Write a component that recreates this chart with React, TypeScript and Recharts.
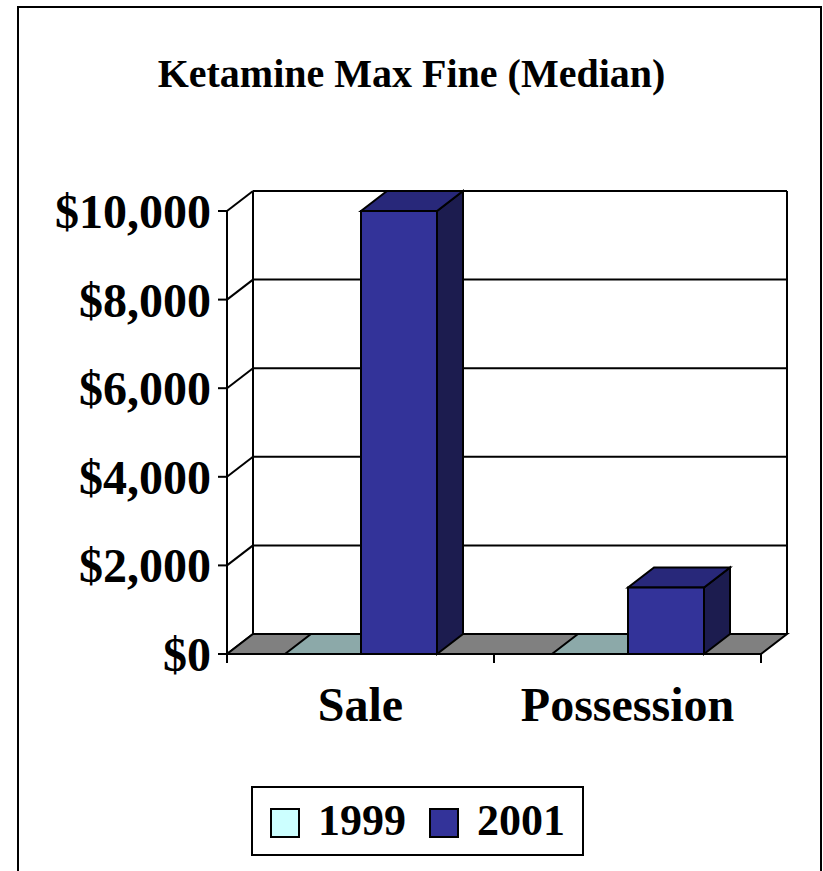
import { BarChart, Bar, XAxis, YAxis, CartesianGrid, ReferenceArea, Legend } from 'recharts';

// values
const categories = ['Sale', 'Possession'];
const fine1999 = [0, 0];
const fine2001 = [10000, 1500];
const yTicks = [0, 2000, 4000, 6000, 8000, 10000];

type Series = { key: string; label: string; front: string; top: string; side: string };

const SERIES: Series[] = [
  { key: 'y1999', label: '1999', front: '#ccffff', top: '#8ca9a9', side: '#6f8f8f' },
  { key: 'y2001', label: '2001', front: '#333399', top: '#28287a', side: '#1c1c4f' },
];

const data = categories.map((name, i) => ({ name, y1999: fine1999[i], y2001: fine2001[i] }));

// 3d depth offset of the back wall
const DX = 26;
const DY = -20;
const FONT = '"Liberation Serif", "Times New Roman", serif';
const LINE = { stroke: '#000', strokeWidth: 2 };

const formatMoney = (v: number) => '$' + v.toLocaleString('en-US');

const makeBox = (s: Series) => (props: any) => {
  const { x, y, width: w, height: h } = props;
  if (w == null || y == null) return <g />;
  const top = `${x},${y} ${x + DX},${y + DY} ${x + w + DX},${y + DY} ${x + w},${y}`;
  if (!h) {
    return (
      <g>
        <polygon points={top} fill={s.top} {...LINE} strokeLinejoin="miter" />
      </g>
    );
  }
  const side = `${x + w},${y} ${x + w + DX},${y + DY} ${x + w + DX},${y + h + DY} ${x + w},${y + h}`;
  return (
    <g>
      <polygon points={side} fill={s.side} {...LINE} strokeLinejoin="miter" />
      <polygon points={top} fill={s.top} {...LINE} strokeLinejoin="miter" />
      <rect x={x} y={y} width={w} height={h} fill={s.front} {...LINE} />
    </g>
  );
};

// gridline on the back wall plus its diagonal on the left wall
const WallLine = (p: any) => {
  const { x1, x2, y1 } = p;
  return (
    <g key={p.key}>
      <line x1={x1} y1={y1} x2={x1 + DX} y2={y1 + DY} {...LINE} />
      <line x1={x1 + DX} y1={y1 + DY} x2={x2 + DX} y2={y1 + DY} {...LINE} />
    </g>
  );
};

// floor, back wall edges and category boundary ticks
const Room = (p: any) => {
  const { x, y, width: w, height: h } = p;
  const b = y + h;
  const floor = `${x},${b} ${x + w},${b} ${x + w + DX},${b + DY} ${x + DX},${b + DY}`;
  return (
    <g>
      <line x1={x + DX} y1={y + DY} x2={x + DX} y2={b + DY} {...LINE} />
      <line x1={x + w + DX} y1={y + DY} x2={x + w + DX} y2={b + DY} {...LINE} />
      <polygon points={floor} fill="#808080" {...LINE} />
      {[0, 0.5, 1].map((f) => (
        <line key={f} x1={x + w * f} y1={b} x2={x + w * f} y2={b + 9} {...LINE} />
      ))}
    </g>
  );
};

const LegendBox = () => (
  <div
    style={{
      display: 'inline-flex',
      alignItems: 'center',
      height: 70,
      boxSizing: 'border-box',
      border: '2px solid #000',
      padding: '0 17px',
      background: '#fff',
    }}
  >
    {SERIES.map((s, i) => (
      <div key={s.key} style={{ display: 'flex', alignItems: 'center', marginLeft: i ? 23 : 0 }}>
        <span
          style={{
            display: 'inline-block',
            width: 30,
            height: 30,
            marginTop: 4,
            boxSizing: 'border-box',
            border: '2px solid #000',
            background: s.front,
          }}
        />
        <span style={{ marginLeft: 18, font: `bold 44px ${FONT}`, lineHeight: '44px', color: '#000' }}>
          {s.label}
        </span>
      </div>
    ))}
  </div>
);

export default function App() {
  const tickStyle = { fill: '#000', fontSize: 48, fontWeight: 'bold', fontFamily: FONT };
  return (
    <div
      style={{
        position: 'absolute',
        left: 0,
        top: 0,
        width: 823,
        height: 871,
        overflow: 'hidden',
        background: '#fff',
        fontFamily: FONT,
      }}
    >
      <div
        style={{
          position: 'absolute',
          left: 17,
          top: 6,
          width: 805,
          height: 900,
          boxSizing: 'border-box',
          border: '2px solid #000',
        }}
      />
      <div
        style={{
          position: 'absolute',
          left: 0,
          top: 54,
          width: 823,
          textAlign: 'center',
          font: `bold 40px ${FONT}`,
          lineHeight: '40px',
        }}
      >
        Ketamine Max Fine (Median)
      </div>
      <div style={{ position: 'absolute', left: 0, top: 0 }}>
        <BarChart
          width={823}
          height={871}
          data={data}
          margin={{ top: 211, right: 62, bottom: 157, left: 27 }}
          barGap={0}
        >
          <CartesianGrid vertical={false} horizontal={WallLine} />
          <ReferenceArea y1={0} y2={10000} ifOverflow="visible" shape={Room} />
          <XAxis
            dataKey="name"
            height={60}
            interval={0}
            tickLine={false}
            tickSize={6}
            tickMargin={27}
            axisLine={LINE}
            tick={tickStyle}
          />
          <YAxis
            width={200}
            domain={[0, 10000]}
            ticks={yTicks}
            interval={0}
            tickFormatter={formatMoney}
            tickSize={9}
            tickMargin={7}
            tickLine={LINE}
            axisLine={LINE}
            tick={tickStyle}
          />
          <Legend
            layout="horizontal"
            verticalAlign="middle"
            align="center"
            content={<LegendBox />}
            wrapperStyle={{ left: 251, top: 786, width: 'auto', height: 70 }}
          />
          {SERIES.map((s) => (
            <Bar
              key={s.key}
              dataKey={s.key}
              name={s.label}
              fill={s.front}
              barSize={76}
              shape={makeBox(s)}
              activeBar={false}
              isAnimationActive={false}
            />
          ))}
        </BarChart>
      </div>
    </div>
  );
}
